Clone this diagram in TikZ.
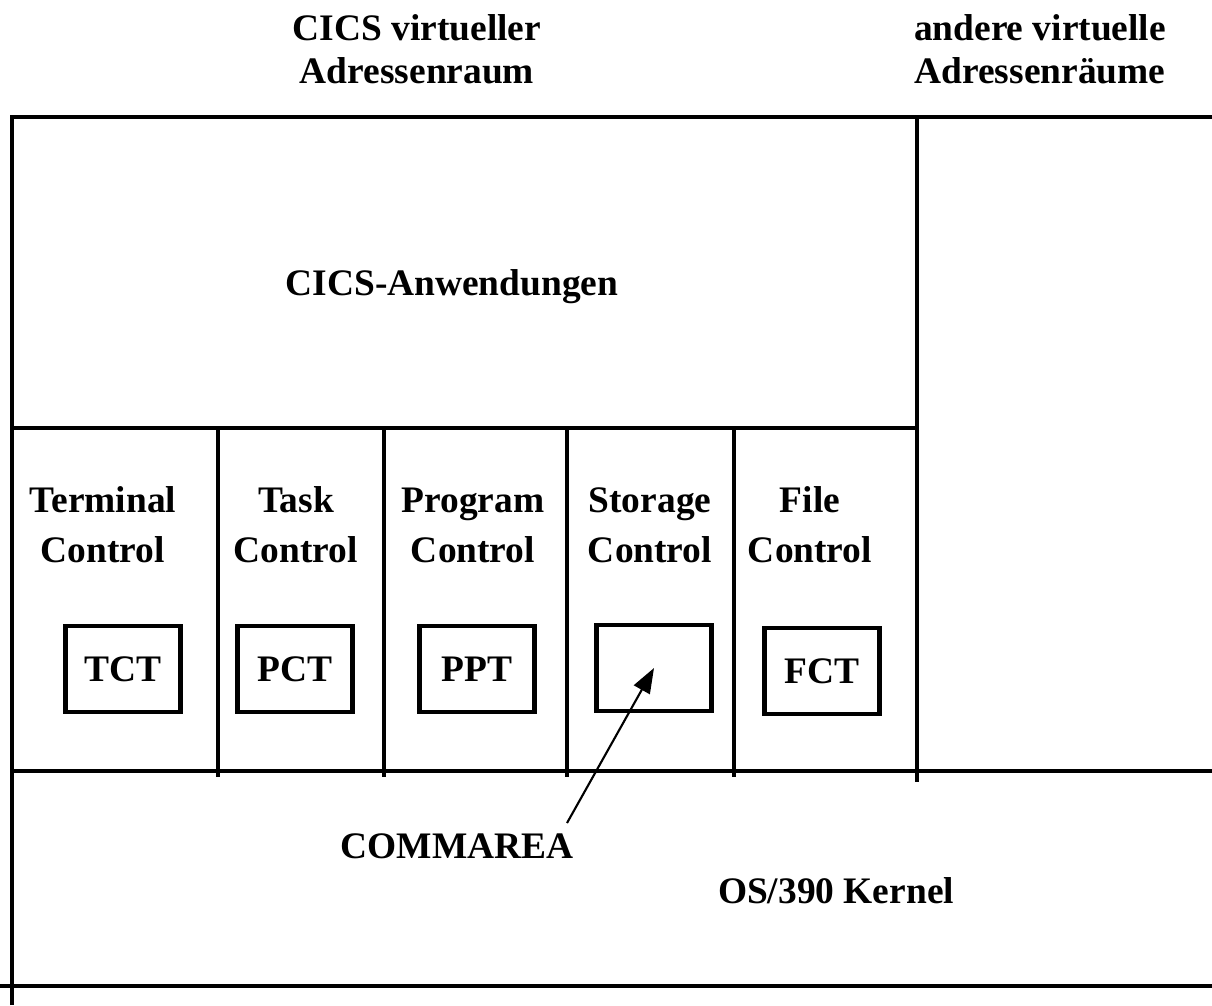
\documentclass[tikz,border=0pt]{standalone}
\usepackage{fontspec}
\setmainfont{Liberation Serif}
\usetikzlibrary{arrows.meta}

\tikzset{
  wall/.style={line width=2.8pt},
  label/.style={font=\fontsize{21.3}{28.4}\selectfont\bfseries, align=center, inner sep=0pt},
  heading/.style={label, font=\fontsize{21.3}{24.4}\selectfont\bfseries},
  table/.style={draw, line width=2.8pt, minimum width=2.3cm, minimum height=1.72cm,
    font=\fontsize{21.3}{27.3}\selectfont\bfseries, inner sep=0pt}
}

\begin{document}
\begin{tikzpicture}[x=0.02cm, y=-0.02cm]
    \useasboundingbox (0,0) rectangle (1212,1005);

    % Draw frame
    \draw[wall] (12,1005) -- (12,117) -- (1212,117);
    \draw[wall] (917,117) -- (917,782);
    \draw[wall] (12,428) -- (917,428);
    \draw[wall] (12,771) -- (1212,771);
    \draw[wall] (0,986) -- (1212,986);

    % Draw column walls
    \foreach \x in {218,384,567,734}
        \draw[wall] (\x,428) -- (\x,777);

    % Add headings
    \node[heading] (cicsvas) at (417,49) {CICS virtueller\\Adressenraum};
    \node[heading] (othervas) at (1040,49) {andere virtuelle\\Adressenräume};
    \node[label, anchor=base] (apps) at (452,295) {CICS-Anwendungen};

    % Add column labels
    \node[label] (termctl) at (103,525) {Terminal\\Control};
    \node[label] (taskctl) at (296,525) {Task\\Control};
    \node[label] (progctl) at (473,525) {Program\\Control};
    \node[label] (storctl) at (650,525) {Storage\\Control};
    \node[label] (filectl) at (810,525) {File\\Control};

    % Draw control tables
    \node[table] (tct) at (123,669) {TCT};
    \node[table] (pct) at (295,669) {PCT};
    \node[table] (ppt) at (477,669) {PPT};
    \node[table] (stor) at (654,668) {};
    \node[table] (fct) at (822,671) {FCT};

    % Add kernel and commarea
    \node[label, anchor=base] (kernel) at (836,903) {OS/390 Kernel};
    \node[label, anchor=base] (commarea) at (457,858) {COMMAREA};
    \coordinate (commtip) at (567,823);
    \draw[line width=1.2pt, -{Triangle[length=0.5cm, width=0.36cm]}] (commtip) -- (stor.center);
\end{tikzpicture}
\end{document}
